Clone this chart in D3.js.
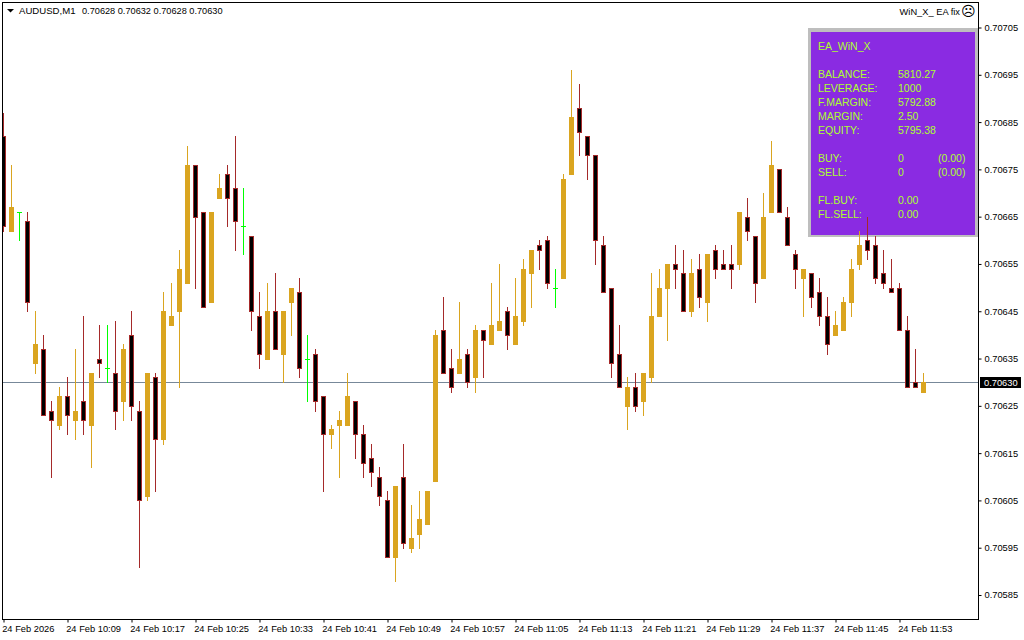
<!DOCTYPE html>
<html><head><meta charset="utf-8">
<script src="https://cdn.jsdelivr.net/npm/d3@7"></script>
<style>
html,body{margin:0;padding:0;background:#fff;overflow:hidden}
svg{display:block}
text{font-family:"Liberation Sans",Arial,sans-serif}
</style></head><body>
<div id="chart"></div>
<script>
const symbolLabel = "AUDUSD,M1";
const ohlcLabel = "0.70628 0.70632 0.70628 0.70630";
const eaLabel = "WiN_X_ EA fix";
const currentPrice = 0.70630;
const priceTicks = [0.70705,0.70695,0.70685,0.70675,0.70665,0.70655,0.70645,0.70635,0.70625,0.70615,0.70605,0.70595,0.70585];
const timeTickLabels = ["24 Feb 2026","24 Feb 10:09","24 Feb 10:17","24 Feb 10:25","24 Feb 10:33","24 Feb 10:41","24 Feb 10:49","24 Feb 10:57","24 Feb 11:05","24 Feb 11:13","24 Feb 11:21","24 Feb 11:29","24 Feb 11:37","24 Feb 11:45","24 Feb 11:53"];
const panelRows = [
 ["EA_WiN_X","",""],["","",""],
 ["BALANCE:","5810.27",""],["LEVERAGE:","1000",""],["F.MARGIN:","5792.88",""],["MARGIN:","2.50",""],["EQUITY:","5795.38",""],
 ["","",""],["BUY:","0","(0.00)"],["SELL:","0","(0.00)"],["","",""],["FL.BUY:","0.00",""],["FL.SELL:","0.00",""]
];
const opens = [
0.70682,0.70662,0.70666,0.70664,0.70634,0.70637,0.70624,0.70621,0.70627,0.70622,
0.70626,0.70621,0.70635,0.70633,0.70632,0.70626,0.70640,0.70624,0.70606,0.70631,
0.70618,0.70642,0.70645,0.70651,0.70676,0.70666,0.70647,0.70669,0.70674,0.70671,
0.70663,0.70661,0.70644,0.70635,0.70645,0.70636,0.70647,0.70649,0.70635,0.70636,
0.70627,0.70619,0.70621,0.70621,0.70626,0.70619,0.70614,0.70610,0.70605,0.70593,
0.70610,0.70595,0.70598,0.70600,0.70609,0.70641,0.70633,0.70632,0.70636,0.70631,
0.70641,0.70638,0.70641,0.70645,0.70638,0.70643,0.70653,0.70659,0.70660,0.70650,
0.70652,0.70674,0.70688,0.70682,0.70678,0.70659,0.70650,0.70636,0.70625,0.70629,
0.70626,0.70631,0.70644,0.70650,0.70655,0.70653,0.70645,0.70654,0.70647,0.70658,
0.70655,0.70655,0.70655,0.70665,0.70661,0.70652,0.70666,0.70675,0.70665,0.70657,
0.70652,0.70653,0.70649,0.70644,0.70640,0.70641,0.70647,0.70655,0.70660,0.70659,
0.70653,0.70650,0.70650,0.70641,0.70630,0.70628];
const highs = [
0.70687,0.70676,0.70666,0.70666,0.70645,0.70640,0.70626,0.70629,0.70631,0.70637,
0.70644,0.70632,0.70642,0.70642,0.70643,0.70638,0.70645,0.70626,0.70632,0.70632,
0.70649,0.70651,0.70658,0.70680,0.70676,0.70666,0.70666,0.70674,0.70676,0.70682,
0.70671,0.70661,0.70649,0.70651,0.70653,0.70645,0.70650,0.70652,0.70640,0.70637,
0.70627,0.70621,0.70624,0.70632,0.70626,0.70621,0.70617,0.70612,0.70607,0.70608,
0.70617,0.70604,0.70607,0.70607,0.70641,0.70648,0.70637,0.70647,0.70637,0.70642,
0.70641,0.70651,0.70655,0.70646,0.70652,0.70656,0.70658,0.70660,0.70661,0.70654,
0.70674,0.70696,0.70693,0.70682,0.70678,0.70661,0.70650,0.70642,0.70631,0.70632,
0.70632,0.70653,0.70654,0.70655,0.70659,0.70658,0.70656,0.70657,0.70657,0.70659,
0.70658,0.70659,0.70666,0.70669,0.70661,0.70670,0.70681,0.70675,0.70667,0.70658,
0.70654,0.70653,0.70652,0.70648,0.70645,0.70648,0.70656,0.70662,0.70665,0.70661,
0.70658,0.70656,0.70651,0.70644,0.70637,0.70632];
const lows = [
0.70662,0.70662,0.70660,0.70645,0.70632,0.70623,0.70610,0.70620,0.70619,0.70618,
0.70619,0.70612,0.70631,0.70630,0.70620,0.70622,0.70622,0.70591,0.70605,0.70607,
0.70617,0.70642,0.70629,0.70651,0.70650,0.70646,0.70647,0.70669,0.70663,0.70658,
0.70657,0.70641,0.70633,0.70635,0.70637,0.70630,0.70640,0.70631,0.70626,0.70624,
0.70607,0.70616,0.70610,0.70621,0.70614,0.70610,0.70608,0.70604,0.70593,0.70588,
0.70595,0.70594,0.70595,0.70600,0.70609,0.70632,0.70628,0.70632,0.70629,0.70628,
0.70631,0.70638,0.70641,0.70637,0.70638,0.70642,0.70646,0.70654,0.70650,0.70646,
0.70652,0.70674,0.70678,0.70673,0.70655,0.70649,0.70631,0.70629,0.70620,0.70624,
0.70623,0.70630,0.70644,0.70639,0.70650,0.70645,0.70644,0.70646,0.70643,0.70652,
0.70654,0.70650,0.70654,0.70660,0.70647,0.70652,0.70666,0.70666,0.70659,0.70650,
0.70644,0.70646,0.70642,0.70636,0.70640,0.70641,0.70644,0.70654,0.70656,0.70651,
0.70650,0.70649,0.70641,0.70629,0.70629,0.70628];
const closes = [
0.70663,0.70667,0.70666,0.70647,0.70638,0.70623,0.70622,0.70627,0.70623,0.70624,
0.70622,0.70632,0.70634,0.70633,0.70624,0.70637,0.70625,0.70605,0.70632,0.70618,
0.70645,0.70644,0.70654,0.70676,0.70665,0.70646,0.70666,0.70671,0.70669,0.70664,
0.70663,0.70645,0.70636,0.70645,0.70637,0.70645,0.70650,0.70633,0.70635,0.70626,
0.70619,0.70620,0.70622,0.70627,0.70619,0.70613,0.70611,0.70606,0.70593,0.70608,
0.70596,0.70597,0.70601,0.70607,0.70640,0.70632,0.70629,0.70635,0.70630,0.70641,
0.70639,0.70642,0.70643,0.70640,0.70644,0.70654,0.70658,0.70658,0.70651,0.70650,
0.70673,0.70686,0.70683,0.70678,0.70660,0.70649,0.70634,0.70629,0.70629,0.70625,
0.70632,0.70644,0.70650,0.70655,0.70654,0.70645,0.70653,0.70648,0.70657,0.70654,
0.70654,0.70654,0.70666,0.70662,0.70651,0.70665,0.70676,0.70666,0.70659,0.70654,
0.70654,0.70648,0.70644,0.70638,0.70642,0.70647,0.70654,0.70659,0.70658,0.70652,
0.70651,0.70649,0.70641,0.70629,0.70629,0.70630];

const W = 1024, H = 640;
const BEAR_BODY = "#000000", BEAR_EDGE = "#A52A2A", BULL = "#DAA520", DOJI = "#00FF00";
const svg = d3.select("#chart").append("svg").attr("width", W).attr("height", H);

const x = d3.scaleLinear().domain([0, 1]).range([3.5, 11.5]);
const y = d3.scaleLinear().domain([0.70585, 0.70705]).range([595, 27.5]);
const py = p => Math.round(y(p));

svg.append("defs").append("clipPath").attr("id", "plot").append("rect")
   .attr("x", 3).attr("y", 3).attr("width", 975).attr("height", 616);

// info panel (candles draw over it)
const panel = svg.append("g");
panel.append("rect").attr("x", 808).attr("y", 28).attr("width", 170).attr("height", 209).attr("fill", "#BEBEBE");
panel.append("rect").attr("x", 811).attr("y", 32).attr("width", 164).attr("height", 203).attr("fill", "#8A2BE2");
const rowY = d3.scaleLinear().domain([2, 3]).range([78, 92]);
const columns = [818, 898, 938];
panelRows.forEach((row, r) => row.forEach((t, c) => {
  if (!t) return;
  panel.append("text").attr("x", columns[c]).attr("y", r === 0 ? 50 : rowY(r))
    .attr("font-size", 10.5).attr("fill", "#ADFF2F").text(t);
}));

// current price line
const lineY = Math.floor(y(currentPrice)) + 0.5;
svg.append("line").attr("x1", 3).attr("x2", 978).attr("y1", lineY).attr("y2", lineY)
   .attr("stroke", "#778899").attr("stroke-width", 1);

// candles
const candles = d3.range(opens.length).map(i => ({i, o: opens[i], h: highs[i], l: lows[i], c: closes[i]}));
const g = svg.append("g").attr("clip-path", "url(#plot)").attr("shape-rendering", "crispEdges");
const col = d => d.o === d.c ? DOJI : d.c > d.o ? BULL : BEAR_EDGE;
g.selectAll("line.wick").data(candles).join("line").attr("class", "wick")
  .attr("x1", d => x(d.i)).attr("x2", d => x(d.i))
  .attr("y1", d => py(d.h)).attr("y2", d => py(d.l) + 1)
  .attr("stroke", col).attr("stroke-width", 1);
g.selectAll("rect.bull").data(candles.filter(d => d.c > d.o)).join("rect").attr("class", "bull")
  .attr("x", d => x(d.i) - 2.5).attr("width", 5)
  .attr("y", d => py(d.c)).attr("height", d => py(d.o) - py(d.c) + 1)
  .attr("fill", BULL);
g.selectAll("rect.bear").data(candles.filter(d => d.c < d.o)).join("rect").attr("class", "bear")
  .attr("x", d => x(d.i) - 2).attr("width", 4)
  .attr("y", d => py(d.o) + 0.5).attr("height", d => py(d.c) - py(d.o))
  .attr("fill", BEAR_BODY).attr("stroke", BEAR_EDGE).attr("stroke-width", 1);
g.selectAll("line.doji").data(candles.filter(d => d.c === d.o)).join("line").attr("class", "doji")
  .attr("x1", d => x(d.i) - 2.5).attr("x2", d => x(d.i) + 2.5)
  .attr("y1", d => py(d.c) + 0.5).attr("y2", d => py(d.c) + 0.5)
  .attr("stroke", DOJI).attr("stroke-width", 1);

// axes
const yAxis = svg.append("g").attr("transform", "translate(978.5,0)")
  .call(d3.axisRight(y).tickValues(priceTicks).tickFormat(d3.format(".5f")).tickSize(3).tickPadding(3));
const timeTicks = timeTickLabels.map((_, k) => k * 8);
const xAxis = svg.append("g").attr("transform", "translate(0,619.5)")
  .call(d3.axisBottom(x).tickValues(timeTicks).tickFormat((d, k) => timeTickLabels[k]).tickSize(3).tickPadding(3));
[yAxis, xAxis].forEach(a => {
  a.select(".domain").remove();
  a.selectAll("text").attr("font-size", 9.3).attr("font-family", '"Liberation Sans",Arial,sans-serif').attr("fill", "#000");
  a.selectAll("line").attr("stroke", "#000");
});
xAxis.selectAll("text").attr("text-anchor", "start").attr("dx", -1.8);

// frame
svg.append("rect").attr("x", 2.5).attr("y", 2.5).attr("width", 976).attr("height", 617)
   .attr("fill", "none").attr("stroke", "#000").attr("stroke-width", 1);

// current price tag
svg.append("rect").attr("x", 980).attr("y", 377).attr("width", 41).attr("height", 11).attr("fill", "#000");
svg.append("text").attr("x", 984).attr("y", 386).attr("font-size", 9.3).attr("fill", "#fff").text(d3.format(".5f")(currentPrice));

// header
svg.append("path").attr("d", d3.line()([[7, 9], [14, 9], [10.5, 12.5]])).attr("fill", "#000");
svg.append("text").attr("x", 19).attr("y", 14).attr("font-size", 9.6).attr("fill", "#000").text(symbolLabel);
svg.append("text").attr("x", 82).attr("y", 14).attr("font-size", 9.2).attr("fill", "#000").text(ohlcLabel);
svg.append("text").attr("x", 960).attr("y", 15).attr("text-anchor", "end").attr("font-size", 9.3).attr("fill", "#000").text(eaLabel);
svg.append("text").attr("x", 961).attr("y", 16).attr("font-size", 14).attr("font-family", '"DejaVu Sans"').attr("fill", "#000").text("\u2639");
</script>
</body></html>
